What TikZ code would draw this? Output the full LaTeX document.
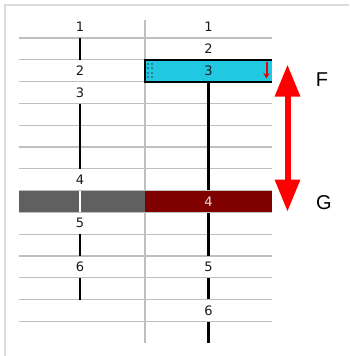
\documentclass[tikz,border=0pt]{standalone}
\usepackage{fontspec}
\setmainfont{DejaVu Sans}
\newfontfamily\labelfont{Liberation Sans}
\usetikzlibrary{arrows.meta,positioning}
\definecolor{gridgray}{RGB}{192,192,192}
\definecolor{framegray}{RGB}{220,220,220}
\definecolor{barcyan}{RGB}{32,200,226}
\definecolor{gripteal}{RGB}{40,130,150}
\definecolor{bardarkred}{RGB}{128,0,0}
\definecolor{bargray}{RGB}{96,96,96}

\begin{document}
\begin{tikzpicture}[x=1pt, y=-1pt, every node/.style={font=\fontsize{13}{14}\selectfont},
  cell/.style={inner sep=0pt, minimum height=21.8pt, text=black!90},
  bar/.style={cell, minimum width=127pt},
  track/.style={line width=2.2pt},
  gridline/.style={gridgray, line width=1.3pt}]
\useasboundingbox (0,0) rectangle (349,356);
\draw[framegray, line width=2pt] (5,356) -- (5,5) -- (349,5);
% grid
\foreach \i in {0,...,13} {\draw[gridline] (19,{38+21.8*\i}) -- (272,{38+21.8*\i});}
\draw[gridline] (145,20) -- (145,343);
\fill[bargray] (19,190.6) rectangle (145,212.4);
% left column
\foreach \n/\r in {1/0,2/2,3/3,4/7,5/9,6/11} {\node[cell] (l\n) at (80,{27.1+21.8*\r}) {\n};}
\coordinate (l7) at (80,299.6);
% right column
\node[cell] (r1) at (208.5,27.1) {1};
\node[cell] (r2) at (208.5,48.9) {2};
\node[bar, fill=barcyan] (r3) at (208.5,70.7) {3};
\node[bar, fill=bardarkred, text=white!88!black] (r4) at (208.5,201.5) {4};
\node[cell] (r5) at (208.5,266.9) {5};
\node[cell] (r6) at (208.5,310.5) {6};
\coordinate (r7) at (208.5,343.2);
\draw[line width=2pt] (r3.north east) -- (r3.north west) -- (r3.south west) -- (r3.south east);
\foreach \gx in {0,1} {\foreach \gy in {0,...,3} {\fill[gripteal] ({147+3.5*\gx},{62.5+4.5*\gy}) rectangle +(2.2,2.2);}}
\draw[red!90!black, line width=2pt, -{Stealth[length=5.5pt,width=6.5pt]}] (266.5,62) -- (266.5,78.5);
% tracks
\draw[track] (l1) -- (l2);
\draw[track] (l3) -- (l4);
\draw[track, white] (l4) -- (l5);
\draw[track] (l5) -- (l6);
\draw[track] (l6) -- (l7);
\draw[track] (r3) -- (r4);
\draw[track] (r4) -- (r5);
\draw[track] (r5) -- (r6);
\draw[track] (r6) -- (r7);
% range arrow
\coordinate (ftip) at (287.5,64.5);
\coordinate (gtip) at (287.5,211.7);
\draw[red, line width=6pt, {Triangle[length=32pt,width=24pt]}-{Triangle[length=32pt,width=24pt]}] (ftip) -- (gtip);
\node[font=\labelfont\fontsize{20}{21}\selectfont] (F) at (322,79.5) {F};
\node[font=\labelfont\fontsize{20}{21}\selectfont] (G) at (324,202.7) {G};
\end{tikzpicture}
\end{document}
